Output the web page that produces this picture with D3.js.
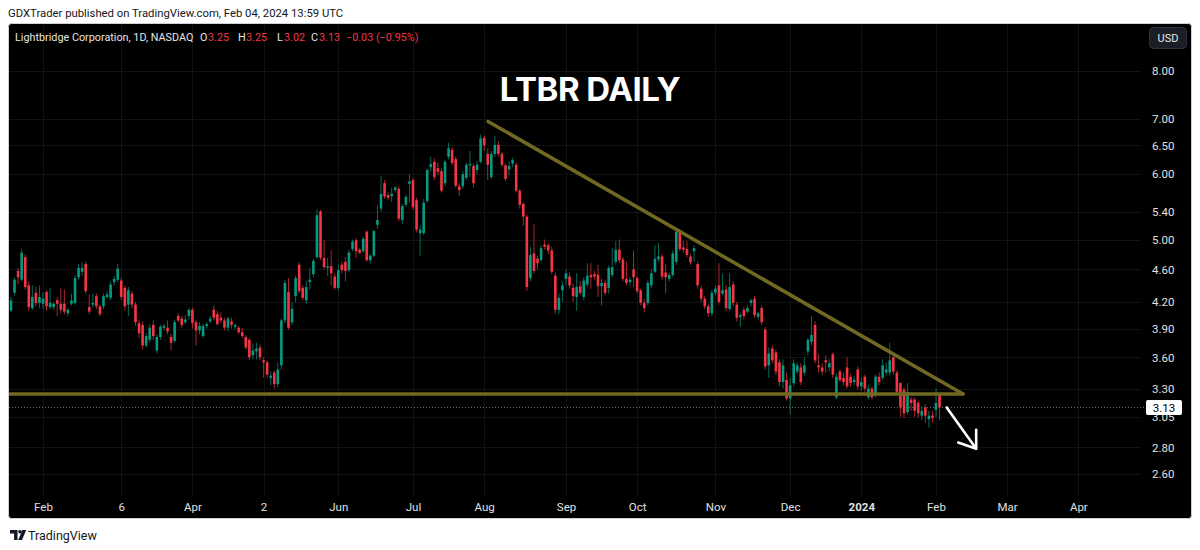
<!DOCTYPE html>
<html>
<head>
<meta charset="utf-8">
<script src="https://cdn.jsdelivr.net/npm/d3@7"></script>
<style>
  body { margin: 0; background: #ffffff; }
  svg { display: block; font-family: Roboto, "Noto Sans", sans-serif; }
</style>
</head>
<body>
<div id="chart"></div>
<script>
// Data (LTBR daily candles)
const opens = [
  4.47,4.10,4.31,4.58,4.47,4.76,4.40,4.13,4.31,4.19,
  4.18,4.32,4.14,4.14,4.22,4.18,4.18,4.07,4.18,4.19,
  4.50,4.57,4.67,4.14,4.17,4.27,4.15,4.15,4.26,4.25,
  4.44,4.47,4.46,4.37,4.17,4.30,4.17,3.96,3.94,3.72,
  3.78,3.94,3.67,3.81,3.91,3.91,3.81,3.77,4.04,4.01,
  3.97,4.04,4.11,
  3.97,3.88,3.82,3.93,3.98,4.11,4.06,4.02,3.99,3.91,
  3.98,3.92,3.91,3.86,3.81,3.78,3.62,3.66,3.70,3.57,
  3.55,3.40,3.45,3.34,3.52,3.99,4.32,3.97,4.27,4.66,
  4.37,4.22,4.44,4.54,4.76,5.41,4.75,4.62,4.64,4.51,
  4.37,4.66,4.70,4.59,4.87,4.99,4.86,4.84,5.11,4.72,
  4.78,5.21,5.45,
  5.85,5.66,5.64,5.74,5.76,5.28,5.51,5.84,5.90,5.58,
  5.09,5.09,5.57,6.12,6.21,6.10,6.05,5.85,6.30,6.42,
  6.26,5.80,5.80,5.94,6.15,6.14,6.07,6.21,6.64,6.35,
  5.95,6.35,6.51,6.35,6.15,6.08,6.18,6.16,5.73,5.52,
  5.33,4.49,4.81,4.74,4.72,4.93,4.92,4.85,4.52,4.11,
  4.34,4.48,4.51,4.37,4.26,
  4.39,4.26,4.41,4.53,4.54,4.53,4.39,4.43,4.37,4.53,
  4.70,4.86,4.73,4.48,4.44,4.60,4.49,4.34,4.19,4.19,
  4.40,4.57,4.73,4.77,4.56,4.48,4.53,4.70,5.12,4.89,
  4.87,4.77,4.84,4.67,4.36,4.24,4.15,4.07,4.31,4.40,
  4.30,4.35,4.12,4.41,4.17,4.03,4.11,4.09,4.19,4.24,
  4.03,4.13,3.89,
  3.52,3.69,3.65,3.55,3.36,3.38,3.21,3.35,3.46,3.50,
  3.45,3.66,3.76,3.94,3.52,3.50,3.57,3.50,3.63,3.22,
  3.46,3.40,3.50,3.41,3.36,3.48,3.32,3.41,3.22,3.30,
  3.24,3.41,3.40,3.45,3.45,3.60,3.45,3.35,3.29,3.09,
  3.20,3.20,3.17,3.06,3.13,3.03,3.06,3.11,3.25
];
const highs = [
  4.55,4.26,4.50,4.62,4.87,4.80,4.45,4.40,4.38,4.40,
  4.32,4.34,4.37,4.20,4.26,4.36,4.35,4.13,4.30,4.53,
  4.67,4.69,4.70,4.29,4.30,4.30,4.17,4.30,4.33,4.45,
  4.52,4.67,4.50,4.40,4.38,4.33,4.20,4.00,3.98,3.85,
  3.95,3.99,3.84,3.94,3.95,3.99,3.84,4.00,4.07,4.04,
  4.05,4.13,4.14,
  4.00,3.97,3.95,3.97,4.04,4.16,4.10,4.08,4.02,4.03,
  4.02,3.96,3.93,3.91,3.83,3.80,3.74,3.75,3.73,3.60,
  3.57,3.46,3.47,3.55,4.01,4.47,4.49,4.20,4.52,4.69,
  4.40,4.45,4.62,4.74,5.44,5.43,4.99,4.75,4.85,4.55,
  4.66,4.70,4.76,4.86,5.00,5.02,4.88,5.04,5.13,4.80,
  5.14,5.50,5.97,
  5.90,5.70,5.78,5.80,5.80,5.52,5.66,6.00,5.94,5.62,
  5.20,5.60,6.10,6.30,6.27,6.20,6.10,6.24,6.55,6.47,
  6.30,5.85,6.05,6.20,6.40,6.18,6.22,6.70,6.68,6.45,
  6.40,6.68,6.58,6.38,6.18,6.22,6.28,6.20,5.76,5.55,
  5.36,4.90,5.22,4.78,4.92,5.00,4.95,4.90,4.56,4.30,
  4.45,4.60,4.55,4.42,4.55,
  4.45,4.50,4.68,4.68,4.58,4.66,4.48,4.47,4.65,4.88,
  4.98,5.00,4.76,4.70,4.50,4.85,4.52,4.36,4.24,4.46,
  4.60,4.92,4.95,4.80,4.67,4.56,4.85,5.17,5.15,4.98,
  4.98,4.80,4.92,4.70,4.40,4.27,4.18,4.34,4.40,4.68,
  4.55,4.40,4.55,4.45,4.20,4.07,4.14,4.16,4.24,4.27,
  4.09,4.16,3.92,
  3.70,3.72,3.68,3.58,3.58,3.45,3.40,3.58,3.55,3.54,
  3.60,3.80,4.04,3.98,3.63,3.54,3.62,3.58,3.65,3.44,
  3.48,3.45,3.60,3.44,3.42,3.51,3.40,3.43,3.33,3.32,
  3.43,3.45,3.58,3.55,3.75,3.62,3.47,3.36,3.31,3.35,
  3.22,3.22,3.19,3.14,3.16,3.10,3.10,3.30,3.25
];
const lows = [
  4.08,4.08,4.28,4.42,4.45,4.35,4.10,4.11,4.15,4.13,
  4.12,4.10,4.12,4.11,4.04,4.07,4.06,4.04,4.16,4.17,
  4.47,4.52,4.30,4.06,4.14,4.12,4.04,4.12,4.24,4.22,
  4.40,4.44,4.22,4.10,4.04,4.13,3.93,3.80,3.68,3.70,
  3.75,3.78,3.64,3.78,3.88,3.84,3.67,3.75,3.97,3.91,
  3.95,4.00,3.90,
  3.72,3.84,3.80,3.90,3.96,3.99,3.93,3.96,3.88,3.87,
  3.90,3.89,3.84,3.80,3.68,3.57,3.58,3.58,3.57,3.40,
  3.40,3.33,3.30,3.31,3.48,3.96,3.89,3.94,4.20,4.30,
  4.22,4.18,4.35,4.50,4.74,4.72,4.60,4.52,4.40,4.35,
  4.34,4.55,4.45,4.56,4.84,4.75,4.80,4.82,4.70,4.68,
  4.76,5.15,5.40,
  5.60,5.58,5.55,5.70,5.26,5.22,5.48,5.55,5.43,5.10,
  4.78,5.06,5.54,6.05,5.90,5.98,5.70,5.80,6.25,6.15,
  5.78,5.65,5.76,5.90,5.95,5.78,6.00,6.18,6.40,5.90,
  5.92,6.30,6.30,6.12,5.88,5.98,6.12,5.70,5.45,5.20,
  4.33,4.45,4.55,4.60,4.70,4.86,4.80,4.54,4.07,4.06,
  4.20,4.40,4.36,4.20,4.10,
  4.28,4.22,4.38,4.36,4.47,4.26,4.16,4.28,4.30,4.50,
  4.66,4.68,4.45,4.40,4.40,4.38,4.30,4.16,4.08,4.16,
  4.37,4.55,4.70,4.47,4.30,4.45,4.50,4.66,4.84,4.82,
  4.76,4.66,4.70,4.36,4.20,4.12,4.03,4.04,4.28,4.17,
  4.28,4.10,4.10,4.15,3.98,3.92,4.00,4.07,4.15,4.02,
  4.00,3.94,3.48,
  3.40,3.54,3.43,3.32,3.30,3.19,3.07,3.32,3.44,3.33,
  3.42,3.62,3.72,3.54,3.45,3.43,3.45,3.46,3.40,3.20,
  3.36,3.33,3.30,3.32,3.33,3.29,3.28,3.27,3.20,3.20,
  3.22,3.33,3.38,3.42,3.42,3.43,3.25,3.05,3.04,3.07,
  3.10,3.05,3.04,3.02,3.00,2.96,3.00,3.05,3.02
];
const closes = [
  4.12,4.22,4.47,4.50,4.82,4.38,4.14,4.26,4.19,4.26,
  4.24,4.15,4.19,4.18,4.18,4.11,4.09,4.11,4.22,4.49,
  4.62,4.62,4.33,4.09,4.19,4.15,4.06,4.27,4.29,4.41,
  4.48,4.61,4.26,4.15,4.34,4.17,3.97,3.85,3.72,3.82,
  3.91,3.82,3.81,3.92,3.93,3.87,3.75,3.97,3.99,3.94,
  4.00,4.11,3.96,
  3.88,3.93,3.93,3.95,4.01,4.02,3.95,3.99,3.91,4.01,
  3.94,3.94,3.86,3.82,3.70,3.60,3.67,3.69,3.60,3.55,
  3.43,3.42,3.34,3.48,3.99,4.43,3.91,4.12,4.49,4.33,
  4.25,4.38,4.47,4.71,5.35,4.75,4.63,4.64,4.55,4.37,
  4.59,4.59,4.58,4.82,4.97,4.84,4.82,5.01,4.72,4.78,
  5.12,5.28,5.68,
  5.64,5.62,5.68,5.78,5.30,5.49,5.63,5.88,5.47,5.14,
  5.14,5.54,6.07,6.17,5.95,6.04,5.73,6.21,6.45,6.19,
  5.81,5.74,6.00,6.16,6.17,5.85,6.16,6.63,6.50,6.16,
  6.35,6.51,6.35,6.16,5.92,6.14,6.24,5.73,5.51,5.33,
  4.38,4.79,4.58,4.68,4.88,4.90,4.85,4.57,4.11,4.25,
  4.40,4.55,4.40,4.27,4.38,
  4.31,4.46,4.52,4.50,4.51,4.39,4.43,4.31,4.62,4.63,
  4.86,4.72,4.48,4.43,4.47,4.50,4.33,4.19,4.13,4.43,
  4.55,4.74,4.77,4.51,4.50,4.53,4.81,5.11,4.87,4.86,
  4.79,4.69,4.88,4.40,4.24,4.15,4.07,4.31,4.36,4.20,
  4.34,4.13,4.38,4.19,4.02,4.05,4.04,4.13,4.22,4.05,
  4.07,3.97,3.51,
  3.64,3.57,3.46,3.36,3.52,3.21,3.33,3.54,3.52,3.36,
  3.52,3.78,3.83,3.57,3.50,3.46,3.55,3.54,3.43,3.41,
  3.38,3.36,3.32,3.35,3.38,3.32,3.36,3.30,3.30,3.22,
  3.41,3.36,3.52,3.48,3.57,3.46,3.27,3.13,3.08,3.27,
  3.17,3.10,3.08,3.10,3.06,3.06,3.04,3.17,3.13
];

// Axis ticks (time ticks are candle indexes)
const timeTickIdx = [10, 32, 52, 72, 93, 114, 134, 157, 177, 199, 220, 240, 261, 281, 301];
const timeTickLabels = ["Feb", "6", "Apr", "2", "Jun", "Jul", "Aug", "Sep", "Oct", "Nov", "Dec", "2024", "Feb", "Mar", "Apr"];
const priceTicks = [2.6, 2.8, 3.05, 3.3, 3.6, 3.9, 4.2, 4.6, 5.0, 5.4, 6.0, 6.5, 7.0, 8.0];

// Drawings
const supportIdx = [-2, 268.6];
const supportPrice = [3.25, 3.25];
const resistIdx = [135.1, 268.6];
const resistPrice = [6.95, 3.25];
const arrowIdx = [264.0, 272.3];
const arrowPrice = [3.13, 2.79];
const lastPrice = 3.13;

function drawChart() {
  const W = 1200, H = 550;
  const plot = { left: 9, top: 25, right: 1140, bottom: 496 };

  const svg = d3.select("#chart").append("svg")
    .attr("width", W)
    .attr("height", H);

  // Scales
  const x = d3.scaleLinear().domain([10, 261]).range([43, 936]);
  const y = d3.scaleLog().domain([2.6, 8]).range([474, 71]);

  const up = "#089981", down = "#f23645";

  // Header
  svg.append("text")
    .attr("x", 8).attr("y", 17)
    .attr("font-size", 11.3).attr("fill", "#131722")
    .text("GDXTrader published on TradingView.com, Feb 04, 2024 13:59 UTC");

  // Panel
  svg.append("rect")
    .attr("x", 8.5).attr("y", 23.5)
    .attr("width", 1183).attr("height", 495)
    .attr("rx", 3)
    .attr("fill", "#000")
    .attr("stroke", "#cfd1d6");

  svg.append("defs").append("clipPath").attr("id", "clip")
    .append("rect")
    .attr("x", plot.left).attr("y", plot.top)
    .attr("width", plot.right - plot.left).attr("height", plot.bottom - plot.top);

  // Grid
  const grid = svg.append("g").attr("stroke", "#121212").attr("stroke-width", 1);
  grid.selectAll(".vg").data(timeTickIdx).enter().append("line")
    .attr("x1", d => Math.round(x(d)) + 0.5).attr("x2", d => Math.round(x(d)) + 0.5)
    .attr("y1", plot.top).attr("y2", plot.bottom);
  grid.selectAll(".hg").data(priceTicks).enter().append("line")
    .attr("x1", plot.left).attr("x2", plot.right)
    .attr("y1", d => Math.round(y(d)) + 0.5).attr("y2", d => Math.round(y(d)) + 0.5);

  // Title
  svg.append("text")
    .attr("x", 590).attr("y", 101)
    .attr("text-anchor", "middle")
    .attr("font-size", 33).attr("font-weight", 700)
    .attr("fill", "#fff")
    .style("font-family", "Inter, Roboto, sans-serif")
    .attr("letter-spacing", -0.5)
    .text("LTBR DAILY");

  // Legend
  const legend = svg.append("text")
    .attr("y", 41).attr("font-size", 10.8).attr("fill", "#e6e6e6");
  legend.append("tspan").attr("x", 15).text("Lightbridge Corporation, 1D, NASDAQ");
  const parts = [
    [200, "O", "#e6e6e6"], [208, "3.25", down],
    [238, "H", "#e6e6e6"], [246, "3.25", down],
    [277, "L", "#e6e6e6"], [284, "3.02", down],
    [311, "C", "#e6e6e6"], [319, "3.13", down],
    [346, "\u22120.03 (\u22120.95%)", down]
  ];
  parts.forEach(p => legend.append("tspan").attr("x", p[0]).attr("fill", p[2]).text(p[1]));

  // Last price dotted line
  svg.append("line")
    .attr("x1", plot.left).attr("x2", 1145)
    .attr("y1", y(lastPrice)).attr("y2", y(lastPrice))
    .attr("stroke", "#6a6d78").attr("stroke-dasharray", "1,2");

  // Candles
  const candles = d3.range(opens.length).map(i => ({
    i, o: opens[i], h: highs[i], l: lows[i], c: closes[i]
  }));
  const cg = svg.append("g").attr("clip-path", "url(#clip)");
  cg.selectAll(".wick").data(candles).enter().append("line")
    .attr("x1", d => x(d.i)).attr("x2", d => x(d.i))
    .attr("y1", d => y(d.h)).attr("y2", d => y(d.l))
    .attr("stroke", d => d.c >= d.o ? up : down)
    .attr("stroke-opacity", 0.7)
    .attr("stroke-width", 1);
  cg.selectAll(".body").data(candles).enter().append("rect")
    .attr("x", d => x(d.i) - 1.3)
    .attr("width", 2.6)
    .attr("y", d => y(Math.max(d.o, d.c)))
    .attr("height", d => Math.max(1, Math.abs(y(d.o) - y(d.c))))
    .attr("fill", d => d.c >= d.o ? up : down);

  // Trend lines
  const olive = "#6f6921";
  const line = d3.line().x(d => x(d[0])).y(d => y(d[1]));
  svg.append("path")
    .attr("d", line(supportIdx.map((d, i) => [d, supportPrice[i]])))
    .attr("clip-path", "url(#clip)")
    .attr("stroke", olive).attr("stroke-width", 3.5).attr("fill", "none")
    .attr("stroke-linecap", "round");
  svg.append("path")
    .attr("d", line(resistIdx.map((d, i) => [d, resistPrice[i]])))
    .attr("stroke", olive).attr("stroke-width", 3.5).attr("fill", "none")
    .attr("stroke-linecap", "round");

  // Arrow
  const ax0 = x(arrowIdx[0]), ay0 = y(arrowPrice[0]);
  const ax1 = x(arrowIdx[1]), ay1 = y(arrowPrice[1]);
  const ang = Math.atan2(ay1 - ay0, ax1 - ax0);
  const head = 19, spread = 0.62;
  const arrowPath = d3.path();
  arrowPath.moveTo(ax0, ay0); arrowPath.lineTo(ax1, ay1);
  arrowPath.moveTo(ax1 - head * Math.cos(ang - spread), ay1 - head * Math.sin(ang - spread));
  arrowPath.lineTo(ax1, ay1);
  arrowPath.lineTo(ax1 - head * Math.cos(ang + spread), ay1 - head * Math.sin(ang + spread));
  svg.append("path")
    .attr("d", arrowPath.toString())
    .attr("stroke", "#fff").attr("stroke-width", 2.6).attr("fill", "none")
    .attr("stroke-linecap", "round").attr("stroke-linejoin", "round");

  // Price axis
  const yAxis = svg.append("g")
    .attr("transform", "translate(1152,0)")
    .call(d3.axisRight(y).tickValues(priceTicks).tickFormat(d3.format(".2f")).tickSize(0).tickPadding(0));
  yAxis.select(".domain").remove();
  yAxis.selectAll("text").attr("fill", "#e0e0e0").attr("font-size", 11.5)
    .style("font-family", "Roboto, sans-serif");

  // Last price label (covers the top of the 3.05 tick, as in TradingView)
  svg.append("rect")
    .attr("x", 1146).attr("y", y(lastPrice) - 7.5)
    .attr("width", 36).attr("height", 15).attr("rx", 2)
    .attr("fill", "#fff");
  svg.append("text")
    .attr("x", 1164).attr("y", y(lastPrice) + 4.2)
    .attr("text-anchor", "middle").attr("font-size", 11.5).attr("fill", "#000")
    .text(lastPrice.toFixed(2));

  // USD button
  svg.append("rect")
    .attr("x", 1149.5).attr("y", 27.5).attr("width", 37).attr("height", 21).attr("rx", 4)
    .attr("fill", "#1b1e27").attr("stroke", "#2f323c");
  svg.append("text")
    .attr("x", 1168).attr("y", 42).attr("text-anchor", "middle")
    .attr("font-size", 11).attr("fill", "#e6e6e6").text("USD");

  // Time axis
  const xAxis = svg.append("g")
    .attr("transform", "translate(0,500)")
    .call(d3.axisBottom(x).tickValues(timeTickIdx).tickFormat((d, i) => timeTickLabels[i]).tickSize(0).tickPadding(3));
  xAxis.select(".domain").remove();
  xAxis.selectAll("text")
    .attr("fill", "#e0e0e0").attr("font-size", 11.5)
    .style("font-family", "Roboto, sans-serif")
    .attr("font-weight", (d, i) => timeTickLabels[i] === "2024" ? 700 : 400);

  // TradingView footer
  const logo = svg.append("g").attr("fill", "#131722");
  logo.append("path").attr("d", "M10,530 h7.5 v10 h-3.4 v-6.6 h-4.1 z");
  logo.append("circle").attr("cx", 20).attr("cy", 531.8).attr("r", 1.8);
  logo.append("path").attr("d", "M22.4,530 h3.8 l-4.2,10 h-3.8 z");
  svg.append("text")
    .attr("x", 28).attr("y", 539.5)
    .attr("font-size", 12.5).attr("fill", "#131722")
    .text("TradingView");
}

document.addEventListener("DOMContentLoaded", drawChart);
</script>
</body>
</html>
